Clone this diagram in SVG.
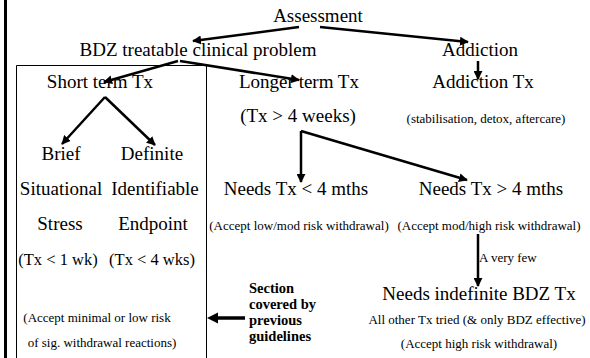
<svg xmlns="http://www.w3.org/2000/svg" width="590" height="358" viewBox="0 0 590 358">
<defs>
<style>
text{font-family:'Liberation Serif','Times New Roman',Times,serif;fill:#000;text-anchor:middle}
.l{font-size:19px}
.m{font-size:16.5px}
.s{font-size:13px}
.b{font-size:14.5px;font-weight:bold;text-anchor:start}
.c{stroke:#000;stroke-width:2.5;fill:none}
</style>
<marker id="ah2" viewBox="0 0 10 10" refX="9" refY="5" markerWidth="9" markerHeight="9" orient="auto" markerUnits="userSpaceOnUse">
<path d="M0,0 L10,5 L0,10 z" fill="#000"/>
</marker>
</defs>
<rect width="590" height="358" fill="#fff"/>
<line x1="5.5" y1="0" x2="5.5" y2="358" stroke="#000" stroke-width="3"/>
<path d="M16.5,358 V65.5 H206.5 V358" fill="none" stroke="#000" stroke-width="1"/>
<g id="connectors">
<line class="c" x1="299" y1="27" x2="193" y2="41" marker-end="url(#ah2)"/>
<line class="c" x1="320" y1="27" x2="468" y2="42" marker-end="url(#ah2)"/>
<line class="c" x1="178" y1="61" x2="104" y2="82" marker-end="url(#ah2)"/>
<line class="c" x1="180" y1="61" x2="299" y2="80" marker-end="url(#ah2)"/>
<line class="c" x1="478" y1="61" x2="478" y2="79" marker-end="url(#ah2)"/>
<line class="c" x1="105" y1="97" x2="62" y2="144" marker-end="url(#ah2)"/>
<line class="c" x1="105" y1="97" x2="155" y2="145" marker-end="url(#ah2)"/>
<path class="c" d="M301,131 V182" marker-end="url(#ah2)"/>
<line class="c" x1="301" y1="131" x2="467" y2="180" marker-end="url(#ah2)"/>
<line class="c" x1="478" y1="234" x2="478" y2="286" marker-end="url(#ah2)"/>
<line x1="245" y1="318" x2="216" y2="318" stroke="#000" stroke-width="3.5"/>
<path d="M207,318 L218,312.5 L218,323.5 z" fill="#000"/>
</g>
<g id="assessment"><text class="l" x="318" y="22">Assessment</text></g>
<g id="bdz"><text class="l" x="198" y="56">BDZ treatable clinical problem</text></g>
<g id="addiction"><text class="l" x="480" y="56">Addiction</text></g>
<g id="short"><text class="l" x="100" y="88">Short term Tx</text></g>
<g id="longer"><text class="l" x="299" y="88">Longer term Tx</text><text class="l" x="298" y="122">(Tx &gt; 4 weeks)</text></g>
<g id="addtx"><text class="l" x="483" y="88">Addiction Tx</text><text class="s" x="486" y="123">(stabilisation, detox, aftercare)</text></g>
<g id="brief"><text class="l" x="61" y="160">Brief</text><text class="l" x="61" y="195">Situational</text><text class="l" x="60" y="230">Stress</text><text class="m" x="58" y="265">(Tx &lt; 1 wk)</text></g>
<g id="definite"><text class="l" x="152" y="160">Definite</text><text class="l" x="155" y="195">Identifiable</text><text class="l" x="153" y="230">Endpoint</text><text class="m" x="152" y="265">(Tx &lt; 4 wks)</text></g>
<g id="shortnote"><text class="s" x="97" y="322">(Accept minimal or low risk</text><text class="s" x="102" y="347">of sig. withdrawal reactions)</text></g>
<g id="needs4lt"><text class="l" x="296" y="195">Needs Tx &lt; 4 mths</text><text class="s" x="299" y="230">(Accept low/mod risk withdrawal)</text></g>
<g id="needs4gt"><text class="l" x="491" y="195">Needs Tx &gt; 4 mths</text><text class="s" x="489" y="230">(Accept mod/high risk withdrawal)</text></g>
<g id="veryfew"><text class="s" x="479" y="262" style="text-anchor:start">A very few</text></g>
<g id="indef"><text class="l" x="479" y="300">Needs indefinite BDZ Tx</text><text class="s" x="477" y="324">All other Tx tried (&amp; only BDZ effective)</text><text class="s" x="479" y="348">(Accept high risk withdrawal)</text></g>
<g id="section"><text class="b" x="249" y="293">Section</text><text class="b" x="249" y="309">covered by</text><text class="b" x="249" y="325">previous</text><text class="b" x="249" y="341">guidelines</text></g>
</svg>
